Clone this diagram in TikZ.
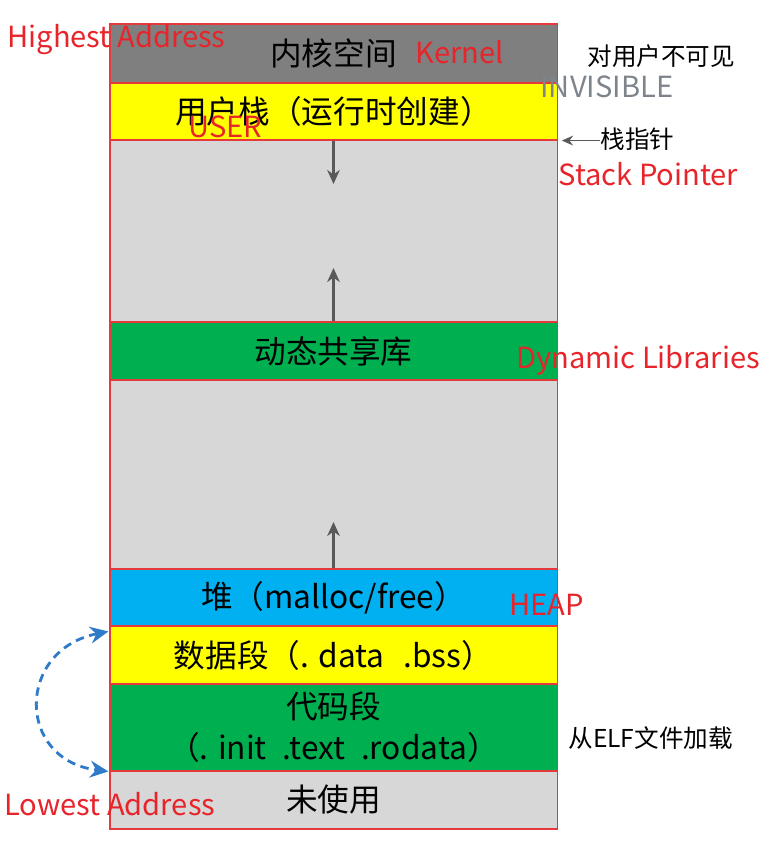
\documentclass[tikz,border=0pt]{standalone}
\usepackage{fontspec}
\setmainfont{Noto Sans CJK SC}
\usepackage{xcolor}
\usepackage{tikz}
\usetikzlibrary{arrows.meta}

\definecolor{kgray}{HTML}{7F7F7F}
\definecolor{ylw}{HTML}{FFFF00}
\definecolor{lgray}{HTML}{D7D7D7}
\definecolor{grn}{HTML}{00B050}
\definecolor{blu}{HTML}{00B0F0}
\definecolor{bordred}{HTML}{E5393B}
\definecolor{lblred}{HTML}{E8242B}
\definecolor{invgray}{HTML}{7D848C}
\definecolor{arrgray}{HTML}{595959}
\definecolor{dashblue}{HTML}{2F7BC8}

\begin{document}
\begin{tikzpicture}[x=0.025cm, y=-0.025cm, semithick,
          band/.style={draw=bordred, line width=0.8pt, minimum width=11.175cm, inner sep=0pt,
                       text=black, font=\fontsize{22.5}{29}\selectfont},
          redlbl/.style={text=lblred, inner sep=0pt, font=\fontsize{20.7}{24}\selectfont},
          side/.style={inner sep=0pt, font=\fontsize{17.5}{20}\selectfont},
          growarr/.style={-{Stealth[length=10pt, width=9pt]}, draw=arrgray, fill=arrgray, line width=1.5pt}
        ]
        \useasboundingbox (0,0) rectangle (760,848);

        % segmentos, de arriba abajo
        \node[band, fill=kgray, minimum height=1.475cm]  (kern)   at (333.5,53.5)  {内核空间};
        \node[band, fill=ylw,   minimum height=1.425cm]  (ustk)   at (333.5,111.5) {用户栈（运行时创建）};
        \node[band, fill=lgray, minimum height=4.55cm]   (gap1)   at (333.5,231)   {};
        \node[band, fill=grn,   minimum height=1.45cm]   (dyn)    at (333.5,351)   {动态共享库};
        \node[band, fill=lgray, minimum height=4.725cm]  (gap2)   at (333.5,474.5) {};
        \node[band, fill=blu,   minimum height=1.425cm]  (heap)   at (333.5,597.5) {堆（malloc/free）};
        \node[band, fill=ylw,   minimum height=1.45cm]   (data)   at (333.5,655)   {数据段（. data\hspace{0.6em}.bss）};
        \node[band, fill=grn,   minimum height=2.175cm, align=center] (code) at (333.5,727.5)
              {代码段\\（. init\hspace{0.5em}.text\hspace{0.5em}.rodata）};
        \node[band, fill=lgray, minimum height=1.45cm]   (unused) at (333.5,800)   {未使用};

        % crecimiento
        \coordinate (sdn) at (333.5,184);
        \coordinate (dup) at (333.5,268);
        \coordinate (hup) at (333.5,522);
        \draw[growarr] (ustk.south) -- (sdn);
        \draw[growarr] (dyn.north) -- (dup);
        \draw[growarr] (heap.north) -- (hup);

        % etiquetas de la derecha
        \node[side, anchor=west] (vis) at (587,56)  {对用户不可见};
        \node[side, anchor=west] (sp)  at (600,139) {栈指针};
        \node[side, anchor=west] (elf) at (568,738) {从ELF文件加载};
        \draw[-{Stealth[length=8pt, width=7pt]}, arrgray, line width=1pt]
              (sp.west |- ustk.south east) -- ([xshift=3pt]ustk.south east);

        % carga desde ELF
        \draw[{Stealth[length=13pt, width=12pt]}-{Stealth[length=13pt, width=12pt]},
              dashblue, line width=2pt, dash pattern=on 6pt off 4pt]
              ([shift={(-1,6)}]data.north west) .. controls (16,650) and (16,760) .. ([shift={(-1,1)}]unused.north west);

        % rotulos en rojo
        \node[redlbl, anchor=base west] (hi)   at (7,47)    {Highest Address};
        \node[redlbl, anchor=base west] (kl)   at (415,63)  {Kernel};
        \node[redlbl, anchor=base west] (usr)  at (188,137) {USER};
        \node[redlbl, anchor=base west, text=invgray] (inv) at (540,97) {INVISIBLE};
        \node[redlbl, anchor=base west] (spe)  at (558,185) {Stack Pointer};
        \node[redlbl, anchor=base west] (dynl) at (516,368) {Dynamic Libraries};
        \node[redlbl, anchor=base west] (hp)   at (509,615) {HEAP};
        \node[redlbl, anchor=base west] (lo)   at (4,815)   {Lowest Address};
      \end{tikzpicture}
\end{document}
